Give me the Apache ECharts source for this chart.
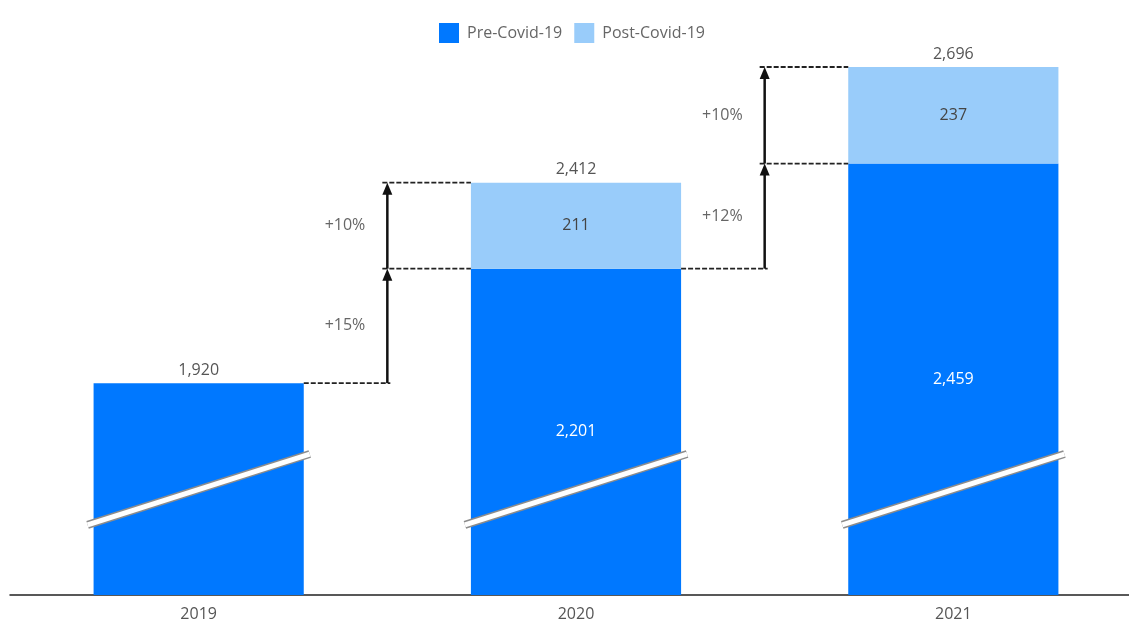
<!DOCTYPE html>
<html>
<head>
<meta charset="utf-8">
<script src="https://cdn.jsdelivr.net/npm/echarts@6/dist/echarts.min.js"></script>
<style>
  html, body { margin: 0; padding: 0; background: #fff; }
  #chart { width: 1129px; height: 623px; }
</style>
</head>
<body>
<div id="chart"></div>
<script>
// data
var categories = ['2019', '2020', '2021'];
var preCovid = [1920, 2201, 2459];
var postCovid = [null, 211, 237];
var totals = [1920, 2412, 2696];
var growthPre = ['', '+15%', '+12%'];
var growthPost = ['', '+10%', '+10%'];

// broken axis: where the slash crosses each bar (data units)
var axisMin = 1400, axisMax = 2750;
var breakLow = 1572, breakHigh = 1746;
var barRatio = 0.557;

var FONT = '"Open Sans", "DejaVu Sans", sans-serif';
var fmt = function (v) { return Number(v).toLocaleString('en-US'); };

function arrow(x, yFrom, yTo) {
  return [
    { type: 'line', shape: { x1: x, y1: yFrom, x2: x, y2: yTo + 8 }, style: { stroke: '#111', lineWidth: 2.5 } },
    { type: 'polygon', shape: { points: [[x, yTo], [x - 5, yTo + 12], [x + 5, yTo + 12]] }, style: { fill: '#111' } }
  ];
}
function dash(x1, x2, y) {
  return { type: 'line', shape: { x1: x1, y1: y, x2: x2, y2: y }, style: { stroke: '#222', lineWidth: 1.8, lineDash: [5, 2] } };
}
function txt(s, x, y, align, color) {
  return { type: 'text', style: { text: s, x: x, y: y, align: align, verticalAlign: 'middle', fill: color, font: '16px ' + FONT } };
}

function renderNotes(params, api) {
  var i = api.value(0);
  var band = api.size([1, 0])[0];
  var half = band * barRatio / 2;
  var top = api.coord([i, totals[i]]);
  var x = top[0];
  var kids = [];

  // break slash
  var b1 = api.coord([i, breakLow]), b2 = api.coord([i, breakHigh]);
  var sh = { x1: x - half - 6, y1: b1[1], x2: x + half + 6, y2: b2[1] };
  kids.push({ type: 'line', shape: sh, style: { stroke: '#8c8c8c', lineWidth: 8 } });
  kids.push({ type: 'line', shape: sh, style: { stroke: '#ffffff', lineWidth: 5 } });

  // total above bar
  kids.push(txt(fmt(totals[i]), x, top[1] - 13, 'center', '#555'));

  // pre value in the visible part of the bar
  if (postCovid[i] != null) {
    var mid = api.coord([i, (axisMin + preCovid[i]) / 2]);
    kids.push(txt(fmt(preCovid[i]), x, mid[1], 'center', '#fff'));
  }

  if (i > 0) {
    var ax = x - band / 2;
    var prevRight = x - band + half;
    var left = x - half;
    var yPrev = api.coord([i - 1, preCovid[i - 1]])[1];
    var yPre = api.coord([i, preCovid[i]])[1];
    var yTot = top[1];
    kids.push(dash(prevRight, ax + 3, yPrev));
    kids.push(dash(ax - 5, left, yPre));
    kids.push(dash(ax - 5, left, yTot));
    kids = kids.concat(arrow(ax, yPrev, yPre), arrow(ax, yPre, yTot));
    kids.push(txt(growthPre[i], ax - 22, (yPrev + yPre) / 2, 'right', '#666'));
    kids.push(txt(growthPost[i], ax - 22, (yPre + yTot) / 2, 'right', '#666'));
  }
  return { type: 'group', children: kids };
}

var dom = document.getElementById('chart');
var myChart = echarts.init(dom);
var option = {
  animation: false,
  textStyle: { fontFamily: FONT },
  legend: {
    top: 18,
    left: 434,
    data: ['Pre-Covid-19', 'Post-Covid-19'],
    icon: 'rect',
    itemWidth: 20,
    itemHeight: 20,
    itemGap: 12,
    textStyle: { color: '#666', fontSize: 16, fontFamily: FONT, padding: [0, 0, 0, 3] }
  },
  grid: { left: 10, right: -13, top: 45, bottom: 28, outerBoundsMode: 'none' },
  xAxis: {
    type: 'category',
    data: categories,
    axisLine: { lineStyle: { color: '#222', width: 1.5 } },
    axisTick: { show: false },
    axisLabel: { color: '#555', fontSize: 16, margin: 11, fontFamily: FONT }
  },
  yAxis: { type: 'value', min: axisMin, max: axisMax, show: false, splitLine: { show: false } },
  color: ['#0078ff', '#99ccfa'],
  series: [
    {
      name: 'Pre-Covid-19',
      type: 'bar',
      stack: 'A',
      barWidth: (barRatio * 100) + '%',
      data: preCovid
    },
    {
      name: 'Post-Covid-19',
      type: 'bar',
      stack: 'A',
      barWidth: (barRatio * 100) + '%',
      label: { show: true, position: 'inside', color: '#444', fontSize: 16, fontFamily: FONT },
      data: postCovid
    },
    {
      name: 'notes',
      type: 'custom',
      z: 10,
      renderItem: renderNotes,
      data: categories.map(function (c, i) { return [i, totals[i]]; })
    }
  ]
};
myChart.setOption(option);
</script>
</body>
</html>
